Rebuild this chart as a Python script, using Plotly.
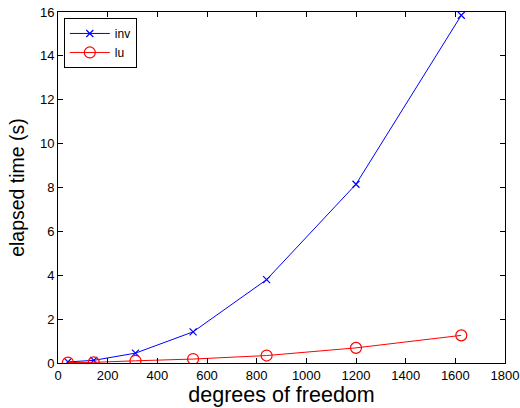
import plotly.graph_objects as go

# degrees of freedom and timings (seconds)
dof = [40, 144, 312, 544, 840, 1200, 1624]
t_inv = [0.05, 0.12, 0.45, 1.42, 3.8, 8.15, 15.85]
t_lu = [0.02, 0.03, 0.10, 0.18, 0.34, 0.69, 1.26]

x_ticks = [0, 200, 400, 600, 800, 1000, 1200, 1400, 1600, 1800]
y_ticks = [0, 2, 4, 6, 8, 10, 12, 14, 16]

fig = go.Figure()
fig.add_trace(go.Scatter(
    x=dof, y=t_inv, name="inv", mode="lines+markers",
    line=dict(color="#0000ff", width=1),
    marker=dict(symbol="x-thin", size=7, line=dict(color="#0000ff", width=1.2)),
))
fig.add_trace(go.Scatter(
    x=dof, y=t_lu, name="lu", mode="lines+markers",
    line=dict(color="#ff0000", width=1),
    marker=dict(symbol="circle-open", size=11, color="#ff0000", line=dict(width=1.2)),
))

axis_common = dict(
    showgrid=False, zeroline=False, showline=True, linecolor="black", linewidth=1,
    mirror="ticks", ticks="inside", ticklen=5, tickcolor="black", automargin=False,
    tickfont=dict(family="Liberation Sans, Arial, sans-serif", size=13, color="black"),
)

fig.update_layout(
    width=520, height=408,
    margin=dict(l=58, r=15, t=12, b=45),
    paper_bgcolor="white", plot_bgcolor="white",
    font=dict(family="Liberation Sans, Arial, sans-serif", color="black"),
    xaxis=dict(range=[0, 1800], tickvals=x_ticks,
               title=dict(text="degrees of freedom", font=dict(size=21.5), standoff=4),
               **axis_common),
    yaxis=dict(range=[0, 16], tickvals=y_ticks,
               title=dict(text="elapsed time (s)", font=dict(size=19.5), standoff=10),
               **axis_common),
    legend=dict(x=0.013, y=0.983, xanchor="left", yanchor="top",
                bordercolor="black", borderwidth=1, bgcolor="white",
                font=dict(size=12), tracegroupgap=0, itemwidth=40),
    showlegend=True,
)

fig.write_html("out.html")
